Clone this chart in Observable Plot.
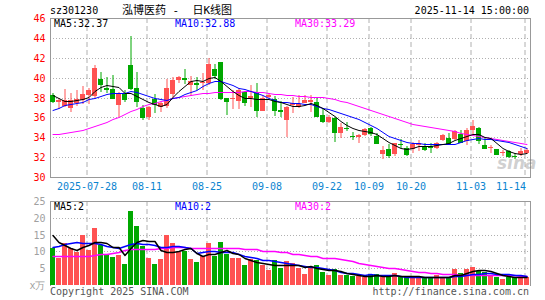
<!DOCTYPE html>
<html><head><meta charset="utf-8">
<script src="https://cdn.jsdelivr.net/npm/d3@7"></script>
<script src="https://cdn.jsdelivr.net/npm/@observablehq/plot@0.6"></script>
<style>
body{margin:0;background:#fff;}
#wrap{position:relative;width:545px;height:300px;overflow:hidden;font-family:"DejaVu Sans Mono",monospace;font-size:10px;}
#wrap svg{position:absolute;left:0;}
.t{position:absolute;white-space:pre;line-height:12px;}
</style></head><body><div id="wrap"></div>
<script>
// ---- data ----
const code = "sz301230";
const title = "泓博医药 -  日K线图";
const stamp = "2025-11-14 15:00:00";
const days = ["07-18","07-21","07-22","07-23","07-24","07-25","07-28","07-29","07-30","07-31",
"08-01","08-04","08-05","08-06","08-07","08-08","08-11","08-12","08-13","08-14",
"08-15","08-18","08-19","08-20","08-21","08-22","08-25","08-26","08-27","08-28",
"08-29","09-01","09-02","09-03","09-04","09-05","09-08","09-09","09-10","09-11",
"09-12","09-15","09-16","09-17","09-18","09-19","09-22","09-23","09-24","09-25",
"09-26","09-29","09-30","10-09","10-10","10-13","10-14","10-15","10-16","10-17",
"10-20","10-21","10-22","10-23","10-24","10-27","10-28","10-29","10-30","10-31",
"11-03","11-04","11-05","11-06","11-07","11-10","11-11","11-12","11-13","11-14"];
const open = [38.25,37.5,37.15,36.9,37.45,37.7,38.25,38.2,39.9,38.95,
38.9,37.2,38.33,41.23,39.0,36.9,36.0,37.8,37.0,37.15,
38.4,39.78,40.0,39.3,39.45,39.45,39.5,40.82,41.55,38.0,
37.8,37.6,38.57,37.9,38.57,36.67,38.1,37.85,36.75,35.7,
37.23,37.0,37.47,37.57,37.57,36.23,35.57,35.9,34.47,34.93,
34.17,34.07,34.23,34.9,34.13,32.3,32.8,32.3,33.35,32.9,
32.8,33.25,33.1,33.1,32.9,33.7,33.9,33.8,34.35,33.6,
34.73,34.9,33.23,32.95,32.8,32.43,32.57,32.15,32.33,32.4];
const close = [37.6,37.75,37.7,37.7,37.8,38.35,38.75,40.95,39.4,38.9,
37.95,38.5,37.8,38.95,37.6,36.0,37.05,37.3,37.45,38.95,
39.73,40.03,39.87,39.65,39.4,39.6,41.4,40.23,37.95,37.67,
37.95,38.73,37.57,38.13,36.77,38.0,38.3,36.75,36.68,37.0,
37.4,37.3,37.73,37.73,36.13,35.67,36.07,34.57,35.07,34.9,
34.13,34.23,34.8,34.47,33.47,32.7,32.23,33.4,33.3,32.35,
33.3,33.4,32.85,33.05,33.4,34.2,33.45,34.65,33.55,34.73,
35.18,33.73,32.9,33.05,32.33,32.5,32.07,32.12,32.6,32.75];
const high = [38.47,38.0,38.9,38.5,38.75,39.15,39.0,41.25,40.57,40.07,
40.25,38.55,38.73,44.23,40.57,37.2,37.15,38.4,37.55,39.9,
40.07,40.2,40.85,40.2,40.07,40.5,41.95,41.4,41.6,38.0,
38.8,39.0,38.65,39.3,39.47,38.2,38.5,38.2,37.6,37.1,
38.07,38.23,38.23,38.23,37.9,36.9,36.23,36.07,35.4,35.57,
34.57,34.33,34.9,35.07,34.4,33.07,33.33,33.47,33.85,33.07,
33.5,33.7,33.4,33.4,33.57,34.35,34.47,34.75,34.73,34.9,
35.73,35.07,34.05,33.23,32.85,32.73,32.67,32.4,32.9,32.95];
const low = [37.45,36.8,37.0,36.5,37.1,37.3,37.35,38.0,38.57,38.5,
37.8,36.07,37.57,38.73,37.07,35.7,35.7,36.4,36.5,36.95,
38.0,39.5,39.4,38.2,38.8,38.8,39.3,39.9,37.75,36.2,
36.85,36.8,37.1,37.05,36.07,36.6,37.9,36.1,36.0,34.07,
36.4,36.9,37.4,36.57,36.07,35.4,35.4,33.57,33.9,34.67,
33.73,33.4,34.13,34.13,33.33,31.8,31.9,32.1,32.9,32.07,
32.4,32.6,32.6,32.4,32.8,33.6,33.23,33.7,33.45,33.23,
34.3,33.33,32.9,32.45,32.33,32.07,31.9,31.8,32.1,32.3];
const ma5 = [38.3,37.9,37.6,37.65,37.7,37.85,38.05,38.7,39.1,39.25,
39.2,39.1,38.5,38.45,38.15,37.8,37.5,37.35,37.1,37.35,
38.1,38.7,39.2,39.65,39.75,39.7,40.0,40.05,39.7,39.2,
38.65,38.25,38.0,37.95,37.85,37.85,37.8,37.6,37.5,37.35,
37.15,37.1,37.25,37.45,37.25,36.9,36.5,36.1,35.6,35.25,
34.95,34.75,34.6,34.5,34.3,33.95,33.55,33.2,32.95,32.85,
32.95,33.1,33.1,33.1,33.2,33.35,33.45,33.7,33.95,34.1,
34.35,34.3,34.0,33.9,33.45,32.95,32.6,32.4,32.35,32.37];
const ma10 = [36.75,36.95,37.2,37.35,37.45,37.55,37.8,38.0,38.2,38.35,
38.45,38.5,38.5,38.65,38.6,38.4,38.2,37.95,37.8,37.75,
37.9,38.1,38.35,38.6,38.8,39.2,39.5,39.65,39.7,39.45,
39.25,39.0,38.85,38.7,38.45,38.25,38.0,37.75,37.55,37.5,
37.45,37.4,37.35,37.3,37.1,36.95,36.8,36.6,36.45,36.25,
36.0,35.8,35.5,35.2,34.9,34.5,34.1,33.9,33.75,33.55,
33.45,33.4,33.35,33.3,33.3,33.3,33.3,33.35,33.5,33.75,
33.85,33.9,33.85,33.8,33.75,33.65,33.5,33.3,33.1,32.88];
const ma30 = [34.3,34.35,34.4,34.5,34.6,34.75,34.9,35.1,35.3,35.55,
35.8,36.05,36.3,36.6,36.85,37.1,37.3,37.45,37.6,37.75,
37.9,38.05,38.2,38.3,38.4,38.45,38.5,38.55,38.55,38.6,
38.6,38.6,38.65,38.65,38.6,38.6,38.5,38.4,38.35,38.3,
38.25,38.2,38.15,38.1,38.1,38.05,38.0,37.8,37.65,37.5,
37.3,37.1,36.95,36.75,36.55,36.35,36.15,35.95,35.75,35.5,
35.35,35.2,35.1,35.0,34.9,34.8,34.7,34.6,34.45,34.3,
34.2,34.1,34.0,33.95,33.85,33.75,33.65,33.55,33.4,33.29];
const vol = [10.9,8.1,12.5,11.1,9.9,15.0,10.4,17.0,11.9,8.9,
8.4,8.9,6.3,22.0,17.7,11.6,8.1,6.3,7.7,14.8,
12.5,9.9,10.1,7.7,6.7,8.6,12.5,8.6,12.8,9.1,
8.1,7.9,6.0,7.6,7.5,6.0,4.5,7.5,5.2,7.0,
6.5,5.2,3.3,5.5,6.0,4.0,3.0,4.8,3.0,3.0,
2.8,2.6,2.5,3.2,3.2,2.5,2.5,3.5,2.5,2.3,
2.5,2.5,2.1,2.1,3.0,2.5,2.5,4.8,3.5,4.8,
5.5,4.2,3.8,3.0,2.5,1.9,2.5,2.5,2.5,2.5];
const vma5 = [14.8,12.8,11.9,11.0,10.4,11.3,11.8,12.7,12.9,12.6,
11.3,11.3,8.8,10.9,12.7,13.3,13.1,13.1,10.3,9.7,
9.9,10.2,10.6,10.9,9.4,8.6,9.1,9.1,9.8,10.3,
9.4,9.2,7.9,7.5,6.9,6.6,6.3,6.1,6.1,6.0,
6.1,5.9,5.5,5.6,5.2,4.8,4.4,4.6,4.2,3.6,
3.3,3.0,2.8,2.8,2.9,2.8,2.8,3.0,2.8,2.7,
2.6,2.7,2.4,2.3,2.5,2.4,2.4,2.9,3.1,3.5,
4.2,4.6,4.4,4.1,3.6,3.0,2.7,2.5,2.4,2.4];
const vma10 = [11.4,11.7,12.1,12.4,12.8,12.6,12.5,12.4,12.1,11.5,
11.2,11.1,11.6,12.1,12.4,12.3,12.1,11.8,11.4,11.4,
11.5,11.7,11.3,10.9,9.6,9.8,10.1,10.0,9.9,9.9,
9.9,9.2,8.7,8.4,7.9,7.5,7.3,7.0,6.8,6.5,
6.3,6.0,5.7,5.5,5.3,5.0,4.7,4.4,4.0,3.7,
3.5,3.3,3.1,3.2,3.1,3.1,3.0,3.0,2.8,2.5,
2.5,2.4,2.3,2.3,2.3,2.4,2.5,2.6,2.8,3.0,
3.2,3.4,3.5,3.5,3.4,3.3,3.2,3.0,2.9,2.8];
const vma30 = [8.7,8.7,8.7,8.7,8.7,8.7,8.7,8.9,9.1,9.3,
9.4,9.8,10.5,10.7,10.7,10.7,10.7,10.8,11.0,11.1,
11.2,11.3,11.3,11.1,11.1,11.1,11.1,11.1,11.1,11.1,
11.1,11.1,10.6,10.6,10.6,10.1,10.1,10.1,9.7,9.7,
9.1,9.1,8.9,8.6,8.6,8.1,8.1,8.1,7.7,7.5,
7.2,6.5,6.3,5.9,5.7,5.5,5.2,5.0,4.7,4.4,
4.2,4.0,3.8,3.7,3.5,3.4,3.2,3.2,3.1,3.0,
3.0,3.0,3.0,2.95,2.9,2.9,2.9,2.85,2.8,2.8];
const priceTicks = [30,32,34,36,38,40,42,44,46];
const priceGrid = [32,34,36,38,40,42,44];
const volTicks = [0,5,10,15,20,25];
const volTickLabels = ["x万","5","10","15","20","25"];
const volGrid = [5,10,15,20];
const tickDays = ["07-28","08-11","08-25","09-08","09-22","10-09","10-20","11-03","11-14"];
const tickLabels = ["2025-07-28","08-11","08-25","09-08","09-22","10-09","10-20","11-03","11-14"];
const priceMA = [["MA5", ma5.at(-1).toFixed(2), "#000", 54], ["MA10", ma10.at(-1).toFixed(2), "#0000ff", 175], ["MA30", ma30.at(-1).toFixed(2), "#ff00ff", 295]];
const volMA = [["MA5", Math.floor(vma5.at(-1)), "#000", 54], ["MA10", Math.floor(vma10.at(-1)), "#0000ff", 175], ["MA30", Math.floor(vma30.at(-1)), "#ff00ff", 295]];

// ---- build ----
const RED = "#ff5252", GREEN = "#00a800";
const GRID = "#b0b0b0", FRAME = "#999999", XLAB = "#0a84d0";
const data = days.map((d, i) => ({date: d, open: open[i], close: close[i], high: high[i], low: low[i], vol: vol[i],
  ma5: ma5[i], ma10: ma10[i], ma30: ma30[i], vma5: vma5[i], vma10: vma10[i], vma30: vma30[i]}));
const col = d => d.close >= d.open ? RED : GREEN;
const style = {background: "transparent", fontFamily: "DejaVu Sans Mono, monospace", fontSize: "10px", overflow: "visible"};
const xOpt = {type: "band", domain: days, round: true, paddingInner: 1/6, paddingOuter: 0.08, align: 0, axis: null};

const price = Plot.plot({
  width: 545, height: 195, marginLeft: 50, marginRight: 15, marginTop: 18, marginBottom: 18, style,
  x: xOpt,
  y: {domain: [30, 46], round: true, axis: null},
  color: {type: "identity"},
  marks: [
    Plot.ruleY(priceGrid, {stroke: GRID, strokeDasharray: "1,2"}),
    Plot.ruleX(tickDays, {x: d => d, stroke: GRID, strokeDasharray: "5,3", dx: -2}),
    Plot.frame({stroke: FRAME}),
    Plot.ruleX(data, {x: "date", y1: "low", y2: "high", stroke: col}),
    Plot.barY(data, {x: "date", y1: "open", y2: "close", fill: col}),
    Plot.tickY(data, {x: "date", y: "close", stroke: col}),
    Plot.lineY(data, {x: "date", y: "ma30", stroke: "#ff00ff", strokeWidth: 1}),
    Plot.lineY(data, {x: "date", y: "ma10", stroke: "#0000ff", strokeWidth: 1}),
    Plot.lineY(data, {x: "date", y: "ma5", stroke: "#000000", strokeWidth: 1}),
    Plot.axisY(priceTicks, {tickSize: 0, tickPadding: 5, color: "#ff0000", label: null}),
    Plot.text(tickDays.slice(0, -1), {x: d => d, text: (d, i) => tickLabels[i], frameAnchor: "bottom", lineAnchor: "middle", dy: 9.5, dx: -2, fill: XLAB}),
    Plot.text(tickDays.slice(-1), {x: d => d, text: () => tickLabels.at(-1), frameAnchor: "bottom", lineAnchor: "middle", dy: 9.5, dx: -1, textAnchor: "end", fill: XLAB})
  ]
});
price.style.top = "0px";

const volume = Plot.plot({
  width: 545, height: 110, marginLeft: 50, marginRight: 15, marginTop: 11, marginBottom: 15, style,
  x: xOpt,
  y: {domain: [0, 25], round: true, axis: null},
  color: {type: "identity"},
  marks: [
    Plot.ruleY(volGrid, {stroke: GRID, strokeDasharray: "1,2"}),
    Plot.ruleX(tickDays, {x: d => d, stroke: GRID, strokeDasharray: "5,3", dx: -2}),
    Plot.frame({anchor: "top", stroke: FRAME}),
    Plot.frame({anchor: "left", stroke: FRAME}),
    Plot.frame({anchor: "right", stroke: FRAME}),
    Plot.barY(data, {x: "date", y: "vol", fill: col}),
    Plot.lineY(data, {x: "date", y: "vma30", stroke: "#ff00ff"}),
    Plot.lineY(data, {x: "date", y: "vma10", stroke: "#0000ff"}),
    Plot.lineY(data, {x: "date", y: "vma5", stroke: "#000000"}),
    Plot.axisY(volTicks, {tickSize: 0, tickPadding: 5, color: "#a0a0a0", tickFormat: (d, i) => volTickLabels[i], label: null})
  ]
});
volume.style.top = "190px";

const wrap = document.getElementById("wrap");
wrap.appendChild(price);
wrap.appendChild(volume);

function txt(s, css) {
  const e = document.createElement("div");
  e.className = "t";
  e.textContent = s;
  Object.assign(e.style, css);
  wrap.appendChild(e);
  return e;
}
txt(code, {left: "50px", top: "5px", color: "#000"});
txt(title, {left: "122px", top: "4px", color: "#000", fontFamily: "'DejaVu Sans Mono','Noto Sans CJK SC',monospace", fontSize: "11px", lineHeight: "14px"});
txt(stamp, {right: "16px", top: "5px", color: "#000"});
for (const [n, v, c, x] of priceMA) txt(`${n}:${v}`, {left: x + "px", top: "18px", color: c});
for (const [n, v, c, x] of volMA) txt(`${n}:${v}`, {left: x + "px", top: "201px", color: c});
txt("Copyright 2025 SINA.COM", {left: "50px", top: "286px", color: "#555"});
txt("http://finance.sina.com.cn", {right: "16px", top: "286px", color: "#555"});
txt("sina", {left: "497px", top: "153px", color: "rgba(120,120,120,0.35)", fontFamily: "'DejaVu Sans',sans-serif", fontSize: "17px", fontStyle: "italic", fontWeight: "bold", lineHeight: "20px"});
</script></body></html>
